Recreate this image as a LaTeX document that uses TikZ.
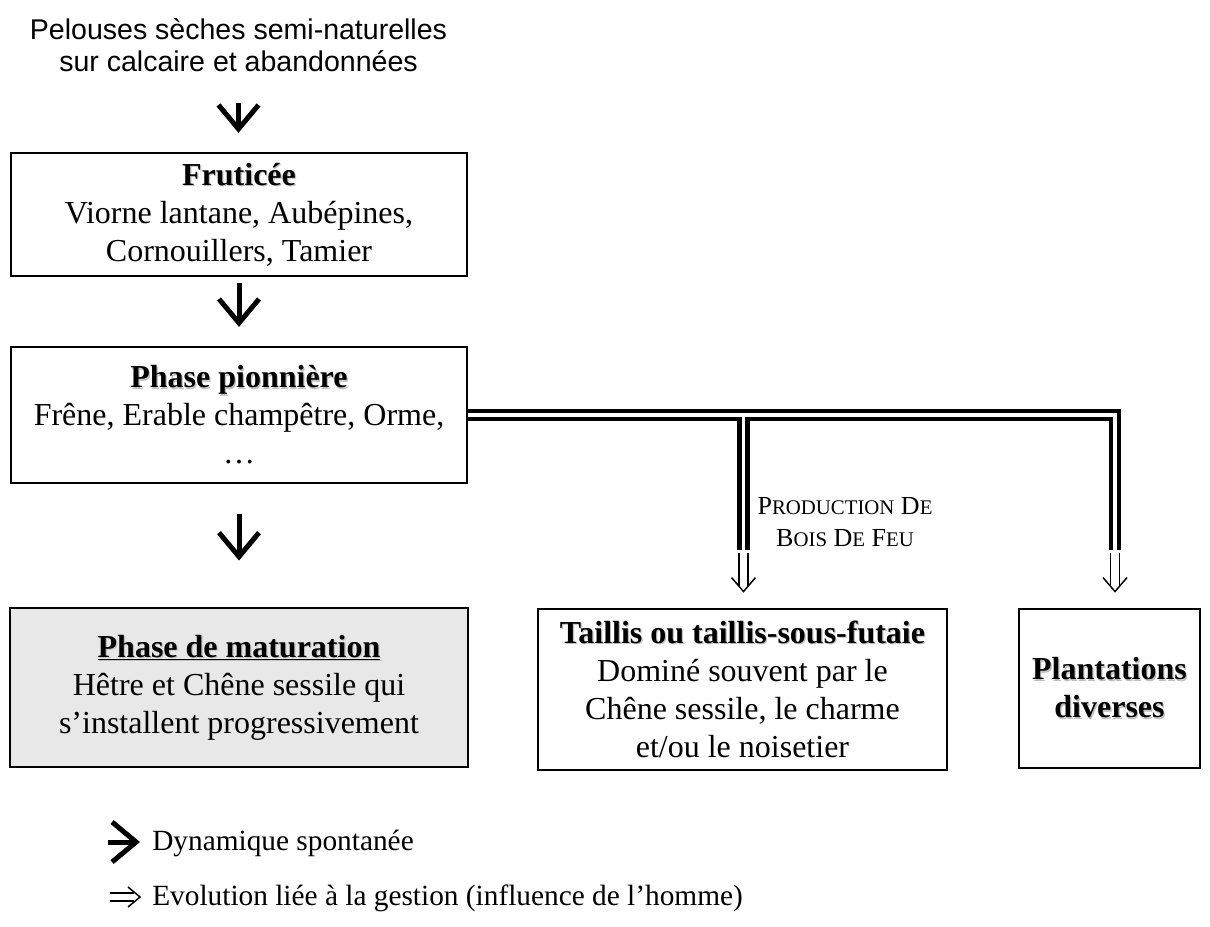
\documentclass[tikz,border=0pt]{standalone}
\usepackage{fontspec}
\setmainfont{Liberation Serif}
\newfontfamily\sansf{Liberation Sans}
\usetikzlibrary{arrows.meta,calc}
\definecolor{matgray}{RGB}{232,232,232}
\newcommand\shd[1]{\leavevmode\rlap{\kern0.9pt\raisebox{-0.9pt}{\color{black!25}#1}}#1}
\newcommand\fsc[2]{{\fontsize{19.5pt}{24pt}\selectfont #1}{\fontsize{15.6pt}{24pt}\selectfont #2}}
\tikzset{
  box/.style={draw, line width=2.2pt, align=center, inner sep=0pt,
    font=\fontsize{24pt}{28.5pt}\selectfont},
  sarrow/.style={line width=3.75pt, -{Straight Barb[length=18pt,width=30pt]}},
  dline/.style={line width=3.5pt, double=white, double distance=2.6pt, line cap=butt, line join=miter},
  hol/.style={line width=1.1pt, line cap=butt, line join=miter},
  legtext/.style={anchor=base west, inner sep=0pt, font=\fontsize{22pt}{26pt}\selectfont},
}
\begin{document}
\begin{tikzpicture}[x=0.75pt,y=-0.75pt]
\useasboundingbox (0,0) rectangle (1210,926);
% top text
\node[align=center, inner sep=0pt, font=\sansf\fontsize{21.4pt}{24pt}\selectfont] (pel) at (238.5,45)
  {Pelouses sèches semi-naturelles\\sur calcaire et abandonnées};
% boxes
\node[box, minimum width=342pt, minimum height=92.25pt] (frut) at (239,214.5)
  {\shd{\textbf{Fruticée}}\\Viorne lantane, Aubépines,\\Cornouillers, Tamier};
\node[box, minimum width=342pt, minimum height=102pt] (pion) at (239,415)
  {\shd{\textbf{Phase pionnière}}\\Frêne, Erable champêtre, Orme,\\…};
\node[box, fill=matgray, minimum width=343.5pt, minimum height=119.25pt] (mat) at (239,687.5)
  {\shd{\underline{\textbf{Phase de maturation}}}\\Hêtre et Chêne sessile qui\\s’installent progressivement};
\node[box, minimum width=306.75pt, minimum height=120.75pt] (tail) at (742.5,689.5)
  {\shd{\textbf{Taillis ou taillis-sous-futaie}}\\Dominé souvent par le\\Chêne sessile, le charme\\et/ou le noisetier};
\node[box, minimum width=135.75pt, minimum height=119.25pt] (plant) at (1109.5,688.5)
  {\shd{\textbf{Plantations}}\\\shd{\textbf{diverses}}};
% spontaneous arrows
\draw[sarrow, shorten <=23pt, shorten >=14pt] (pel.south) -- (pel.south |- frut.north);
\draw[sarrow, shorten <=4.5pt, shorten >=14pt] (frut.south) -- (pion.north);
\draw[sarrow, shorten <=22.5pt, shorten >=34.5pt] (pion.south) -- (mat.north);
% management double lines
\coordinate (jM) at (743.5,550);
\coordinate (jR) at (1115,550);
\draw[dline] (pion.east) -| (jR);
\draw[dline] ($(pion.east -| jM)+(0,1.75)$) -- (jM);
% hollow arrows
\coordinate (tM) at ($(tail.north -| jM)+(0,-16)$);
\coordinate (tR) at ($(plant.north -| jR)+(0,-16)$);
\foreach \s/\t in {jM/tM, jR/tR}{
  \draw[hol] ($(\s)+(-4.7,3)$) -- ($(\t)+(-4.7,-5.5)$);
  \draw[hol] ($(\s)+(4.7,3)$) -- ($(\t)+(4.7,-5.5)$);
  \draw[hol] ($(\t)+(-12,-14)$) -- (\t) -- ($(\t)+(12,-14)$);
}
% label
\node[align=center, inner sep=0pt, font=\fontsize{19.5pt}{24pt}\selectfont] (prod) at (845,522)
  {\fsc{P}{RODUCTION} \fsc{D}{E}\\\fsc{B}{OIS} \fsc{D}{E} \fsc{F}{EU}};
% legend
\coordinate (la1) at (108,842);
\coordinate (la2) at (140,842);
\draw[sarrow] (la1) -- (la2);
\node[legtext] (l1) at (152,850) {Dynamique spontanée};
\coordinate (lb1) at (110,897);
\coordinate (lb2) at (140,897);
\draw[hol] ($(lb1)+(0,-4)$) -- ($(lb2)+(-6,-4)$);
\draw[hol] ($(lb1)+(0,4)$) -- ($(lb2)+(-6,4)$);
\draw[hol] ($(lb2)+(-12,-10)$) -- (lb2) -- ($(lb2)+(-12,10)$);
\node[legtext] (l2) at (152,905) {Evolution liée à la gestion (influence de l’homme)};
\end{tikzpicture}
\end{document}
